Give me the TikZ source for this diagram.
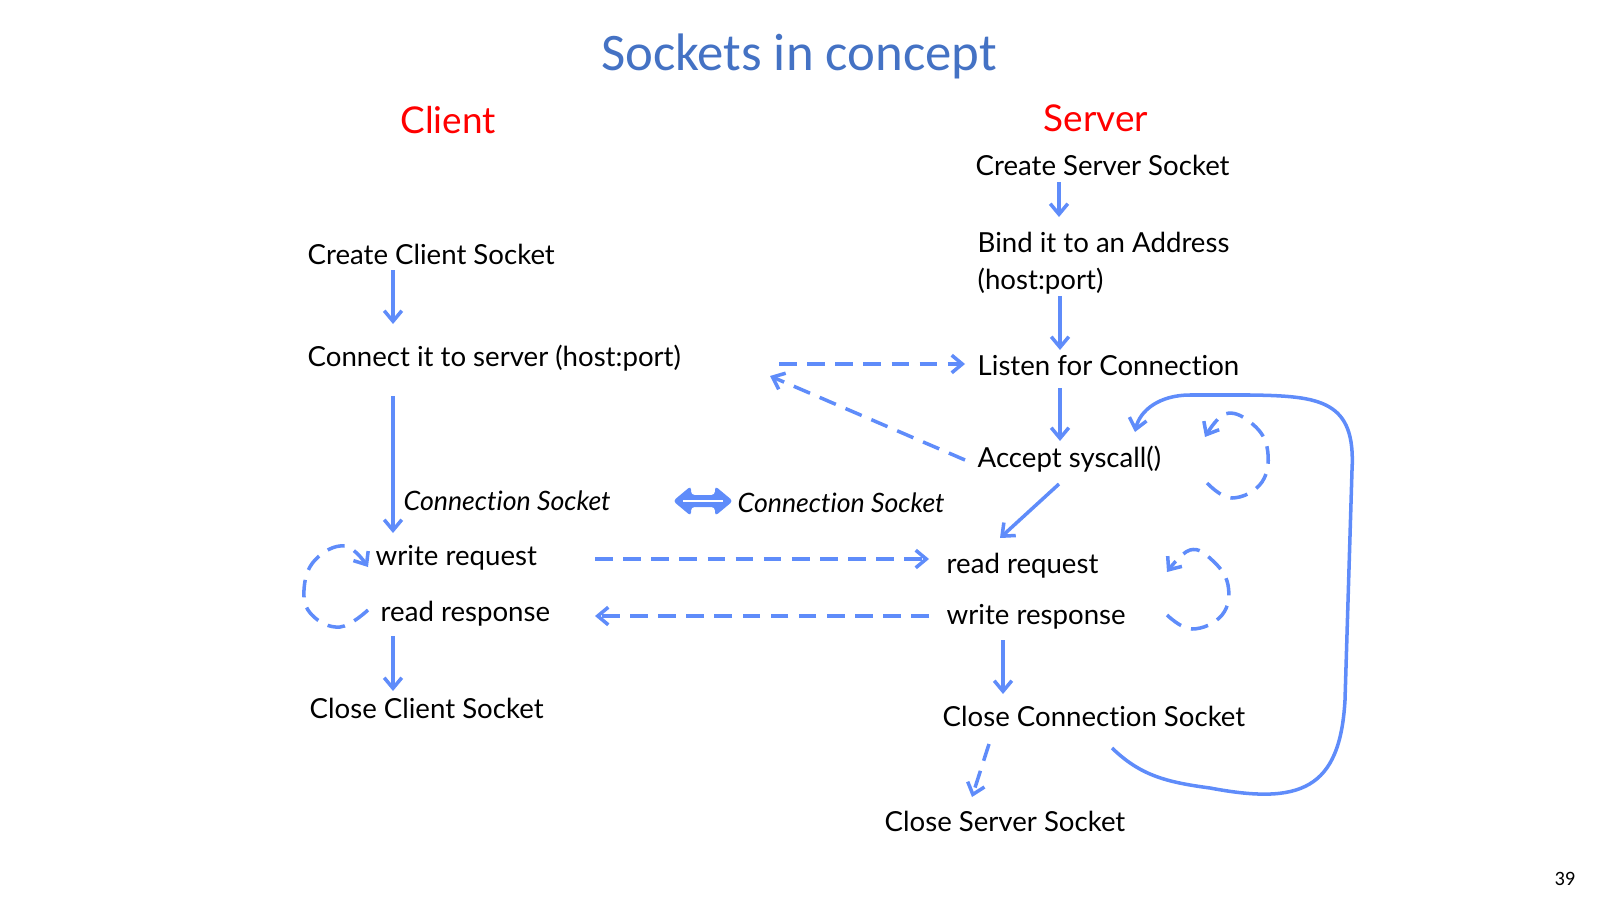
\documentclass[tikz,border=0pt]{standalone}
\usepackage{fontspec}
\setmainfont{Lato}[Ligatures={NoCommon}]
\newfontfamily\titlefont{Carlito}
\usetikzlibrary{arrows.meta}
\definecolor{lnblue}{RGB}{95,140,250}
\definecolor{ttblue}{RGB}{68,114,196}
\definecolor{hdred}{RGB}{255,0,0}
\begin{document}
\begin{tikzpicture}[x=0.01cm,y=-0.01cm,
 txt/.style={anchor=west, inner sep=0pt, font=\fontsize{7.85}{10.5}\selectfont, text=black},
 itx/.style={anchor=west, inner sep=0pt, font=\fontsize{7.6}{10.5}\selectfont\itshape, text=black},
 hd/.style={inner sep=0pt, font=\fontsize{10.5}{12}\selectfont, text=hdred},
 arr/.style={draw=lnblue, line width=1pt, -{Straight Barb[length=3pt,width=5pt]}},
 darr/.style={arr, dash pattern=on 5pt off 3pt},
]
\useasboundingbox (0,0) rectangle (1600,900);
% titles
\node[font=\titlefont\fontsize{15}{18}\selectfont, text=ttblue] (title) at (799,56) {Sockets in concept};
\node[hd] (client) at (448,120) {Client};
\node[hd] (server) at (1096,118) {Server};
% server column
\node[txt] (css) at (975,165) {Create Server Socket};
\node[txt, align=left] (bind) at (977,263) {Bind it to an Address\\(host:port)};
\node[txt] (listen) at (977,366) {Listen for Connection};
\node[txt] (accept) at (977,459) {Accept syscall()};
\node[txt] (rreq) at (946,566) {read request};
\node[txt] (wresp) at (946,617) {write response};
\node[txt] (ccon) at (942,716) {Close Connection Socket};
\node[txt] (csrv) at (884,821) {Close Server Socket};
% client column
\node[txt] (ccs) at (307,254) {Create Client Socket};
\node[txt] (connect) at (307,358) {Connect it to server (host:port)};
\node[itx] (cs1) at (403,501) {Connection Socket};
\node[itx] (cs2) at (737,503) {Connection Socket};
\node[txt] (wreq) at (375,558) {write request};
\node[txt] (rresp) at (380,614) {read response};
\node[txt] (ccls) at (309,708) {Close Client Socket};
\node[anchor=south east, inner sep=0pt, font=\titlefont\fontsize{5.8}{6}\selectfont] (pg) at (1576,886) {39};
% double arrow
\fill[lnblue, rounded corners=1pt] (673,501) -- (691,486) -- (691,495) -- (715,495) -- (715,486) -- (733,501) -- (715,516) -- (715,507) -- (691,507) -- (691,516) -- cycle;
\draw[white, line width=0.5pt] (683,501) -- (723,501);
% solid arrows
\draw[arr] ([shift={(84,17)}]css.west) -- ([shift={(82,-46)}]bind.west);
\draw[arr] ([shift={(83,33)}]bind.west) -- ([shift={(83,-16)}]listen.west);
\draw[arr] ([shift={(83,22)}]listen.west) -- ([shift={(83,-18)}]accept.west);
\draw[arr] ([shift={(82,25)}]accept.west) -- ([shift={(54,-28)}]rreq.west);
\draw[arr] ([shift={(86,16)}]ccs.west) -- ([shift={(86,-34)}]connect.west);
\draw[arr] ([shift={(86,38)}]connect.west) -- ([shift={(18,-25)}]wreq.west);
\draw[arr] ([shift={(13,22)}]rresp.west) -- ([shift={(84,-17)}]ccls.west);
\draw[arr] ([shift={(57,23)}]wresp.west) -- ([shift={(61,-22)}]ccon.west);
% dashed arrows
\draw[darr] ([shift={(47,28)}]ccon.west) -- ([shift={(88,-24)}]csrv.west);
\draw[darr] ([shift={(472,6)}]connect.west) -- ([shift={(-12,-2)}]listen.west);
\draw[darr] ([shift={(-12,1)}]accept.west) -- ([shift={(463,18)}]connect.west);
\draw[darr] ([shift={(220,1)}]wreq.west) -- ([shift={(-17,-7)}]rreq.west);
\draw[darr] ([shift={(-17,-1)}]wresp.west) -- ([shift={(215,2)}]rresp.west);
% loops
\draw[darr] plot[smooth, tension=0.7] coordinates {(368,610) (340,627) (312,615) (304,590) (315,560) (345,546) (368,567)};
\draw[darr] plot[smooth, tension=0.7] coordinates {(1207,483) (1232,498) (1262,482) (1267,447) (1250,422) (1225,414) (1205,437)};
\draw[darr] plot[smooth, tension=0.7] coordinates {(1167,615) (1192,629) (1222,615) (1228,585) (1212,560) (1190,550) (1167,572)};
% big return loop
\draw[arr] ([shift={(170,32)}]ccon.west) .. controls (1140,775) and (1165,782) .. (1210,788)
  .. controls (1300,805) and (1340,790) .. (1345,700) -- (1352,470)
  .. controls (1356,400) and (1320,396) .. (1250,395) -- (1190,395)
  .. controls (1160,395) and (1140,410) .. ([shift={(158,-27)}]accept.west);
\end{tikzpicture}
\end{document}
